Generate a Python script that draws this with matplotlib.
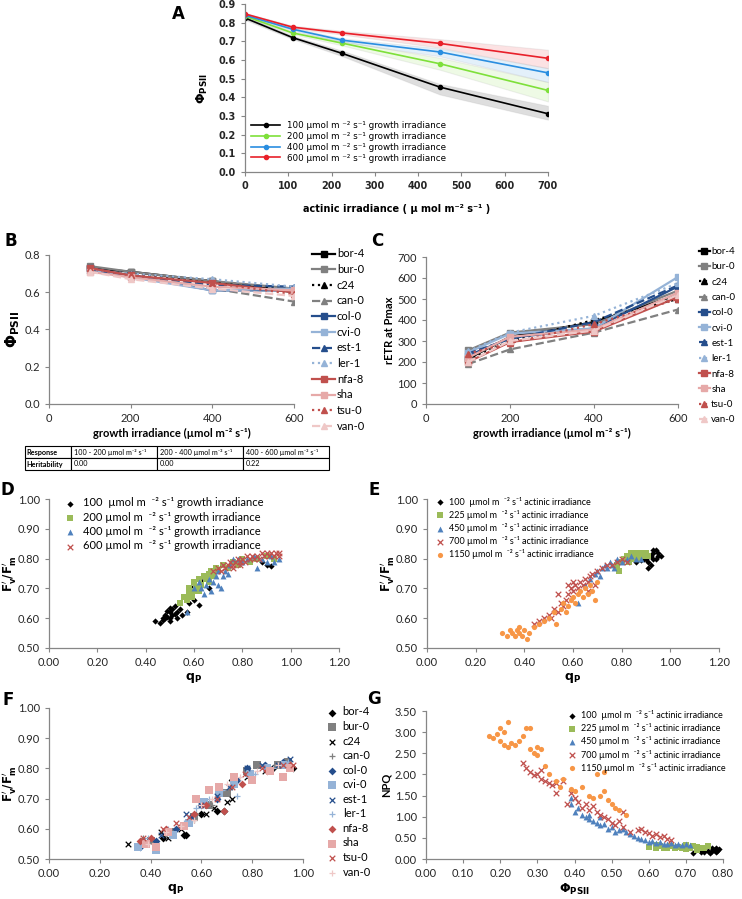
import matplotlib
matplotlib.use("Agg")
import matplotlib.pyplot as plt
from matplotlib.ticker import FormatStrFormatter

plt.rcParams["font.family"] = ["Lato", "DejaVu Sans"]

# --- DATA ---
# Panel A: PhiPSII vs actinic irradiance, mean and band per growth irradiance
actinic_a = [0, 110, 225, 450, 700]
growth_names_a = ["100", "200", "400", "600"]
phi_a_mean = [
    [0.825, 0.720, 0.635, 0.455, 0.312],
    [0.835, 0.745, 0.690, 0.580, 0.437],
    [0.840, 0.765, 0.706, 0.643, 0.531],
    [0.847, 0.776, 0.745, 0.689, 0.609],
]
phi_a_low = [
    [0.815, 0.712, 0.620, 0.415, 0.280],
    [0.828, 0.738, 0.678, 0.548, 0.378],
    [0.835, 0.758, 0.696, 0.620, 0.482],
    [0.842, 0.770, 0.736, 0.666, 0.556],
]
phi_a_high = [
    [0.835, 0.730, 0.650, 0.472, 0.355],
    [0.842, 0.752, 0.702, 0.612, 0.482],
    [0.846, 0.772, 0.716, 0.662, 0.556],
    [0.852, 0.784, 0.756, 0.712, 0.655],
]

# Panels B and C: accessions vs growth irradiance
growth_irr = [100, 200, 400, 600]
accessions = ["bor-4", "bur-0", "c24", "can-0", "col-0", "cvi-0",
              "est-1", "ler-1", "nfa-8", "sha", "tsu-0", "van-0"]
phi_b = [
    [0.73, 0.71, 0.66, 0.60],
    [0.74, 0.71, 0.66, 0.62],
    [0.72, 0.70, 0.65, 0.61],
    [0.72, 0.69, 0.62, 0.55],
    [0.73, 0.69, 0.61, 0.61],
    [0.72, 0.68, 0.61, 0.62],
    [0.72, 0.69, 0.64, 0.63],
    [0.72, 0.70, 0.67, 0.63],
    [0.73, 0.69, 0.65, 0.60],
    [0.71, 0.68, 0.63, 0.61],
    [0.73, 0.69, 0.65, 0.59],
    [0.71, 0.67, 0.62, 0.58],
]
retr_c = [
    [215, 320, 390, 520],
    [255, 340, 380, 540],
    [210, 300, 400, 500],
    [190, 260, 340, 450],
    [230, 315, 360, 560],
    [245, 335, 360, 605],
    [240, 310, 390, 565],
    [250, 340, 420, 575],
    [200, 295, 345, 510],
    [220, 320, 355, 530],
    [240, 290, 380, 500],
    [200, 300, 350, 520],
]
table_rows = [
    ["Response", "100 - 200 µmol m⁻² s⁻¹", "200 - 400 µmol m⁻² s⁻¹", "400 - 600 µmol m⁻² s⁻¹"],
    ["Heritability", "0.00", "0.00", "0.22"],
]

# Panel D: Fv'/Fm' vs qP by growth irradiance
d_100_qp = [0.44, 0.46, 0.47, 0.48, 0.48, 0.49, 0.50, 0.50, 0.50, 0.51, 0.51, 0.52, 0.52, 0.53, 0.53,
            0.54, 0.50, 0.49, 0.47, 0.55, 0.57, 0.58, 0.60, 0.62, 0.59, 0.63, 0.66, 0.90, 0.88, 0.92]
d_100_fv = [0.59, 0.585, 0.60, 0.60, 0.61, 0.605, 0.59, 0.62, 0.60, 0.63, 0.61, 0.615, 0.64, 0.62, 0.60,
            0.63, 0.635, 0.625, 0.595, 0.61, 0.62, 0.65, 0.66, 0.645, 0.70, 0.725, 0.70, 0.78, 0.79, 0.775]
d_200_qp = [0.54, 0.56, 0.57, 0.58, 0.58, 0.60, 0.60, 0.61, 0.62, 0.63, 0.64, 0.65, 0.66, 0.67, 0.68,
            0.69, 0.70, 0.72, 0.74, 0.76, 0.78, 0.80, 0.83, 0.86, 0.90, 0.93, 0.62, 0.59, 0.66]
d_200_fv = [0.65, 0.67, 0.66, 0.70, 0.68, 0.69, 0.72, 0.70, 0.73, 0.71, 0.74, 0.73, 0.75, 0.76, 0.74,
            0.77, 0.76, 0.78, 0.77, 0.79, 0.78, 0.80, 0.79, 0.80, 0.81, 0.80, 0.69, 0.67, 0.72]
d_400_qp = [0.57, 0.60, 0.62, 0.63, 0.64, 0.65, 0.66, 0.67, 0.68, 0.69, 0.70, 0.71, 0.72, 0.73,
            0.75, 0.78, 0.80, 0.82, 0.85, 0.88, 0.92, 0.95, 0.93, 0.86, 0.90, 0.76, 0.70, 0.74]
d_400_fv = [0.62, 0.70, 0.72, 0.70, 0.68, 0.71, 0.73, 0.69, 0.72, 0.74, 0.71, 0.70, 0.74, 0.76,
            0.78, 0.80, 0.79, 0.80, 0.81, 0.80, 0.81, 0.80, 0.79, 0.77, 0.79, 0.80, 0.76, 0.75]
d_600_qp = [0.68, 0.70, 0.71, 0.72, 0.73, 0.74, 0.75, 0.76, 0.77, 0.78, 0.79, 0.80, 0.81, 0.82, 0.83,
            0.84, 0.85, 0.86, 0.87, 0.88, 0.89, 0.90, 0.91, 0.92, 0.93, 0.94, 0.95, 0.95, 0.76, 0.79]
d_600_fv = [0.76, 0.77, 0.76, 0.78, 0.77, 0.78, 0.79, 0.78, 0.79, 0.80, 0.79, 0.80, 0.79, 0.81, 0.80,
            0.81, 0.80, 0.81, 0.80, 0.82, 0.81, 0.82, 0.81, 0.82, 0.81, 0.82, 0.82, 0.81, 0.77, 0.78]

# Panel E: Fv'/Fm' vs qP by actinic irradiance
e_100_qp = [0.86, 0.88, 0.90, 0.91, 0.92, 0.93, 0.94, 0.95, 0.96, 0.94, 0.93, 0.92, 0.91, 0.95, 0.93, 0.89]
e_100_fv = [0.79, 0.795, 0.80, 0.79, 0.81, 0.82, 0.83, 0.82, 0.81, 0.80, 0.80, 0.78, 0.77, 0.81, 0.83, 0.80]
e_225_qp = [0.78, 0.80, 0.81, 0.82, 0.83, 0.84, 0.85, 0.86, 0.87, 0.88, 0.89, 0.90, 0.91, 0.83, 0.79, 0.85, 0.87]
e_225_fv = [0.78, 0.79, 0.80, 0.81, 0.80, 0.82, 0.81, 0.82, 0.81, 0.82, 0.81, 0.82, 0.81, 0.79, 0.76, 0.80, 0.80]
e_450_qp = [0.62, 0.65, 0.67, 0.69, 0.70, 0.72, 0.73, 0.74, 0.75, 0.76, 0.78, 0.80, 0.82, 0.84, 0.86, 0.88, 0.71, 0.77]
e_450_fv = [0.65, 0.71, 0.73, 0.75, 0.76, 0.77, 0.78, 0.77, 0.79, 0.78, 0.80, 0.79, 0.80, 0.81, 0.80, 0.80, 0.74, 0.77]
e_700_qp = [0.44, 0.46, 0.48, 0.50, 0.51, 0.52, 0.54, 0.55, 0.56, 0.57, 0.58, 0.59, 0.60, 0.61, 0.62, 0.63, 0.64,
            0.65, 0.66, 0.67, 0.68, 0.70, 0.72, 0.74, 0.76, 0.78, 0.80, 0.82, 0.58, 0.60, 0.54, 0.69, 0.66]
e_700_fv = [0.58, 0.59, 0.60, 0.61, 0.60, 0.63, 0.62, 0.65, 0.64, 0.66, 0.68, 0.70, 0.69, 0.71, 0.70, 0.72, 0.71,
            0.73, 0.72, 0.74, 0.75, 0.76, 0.77, 0.78, 0.78, 0.79, 0.80, 0.79, 0.71, 0.72, 0.68, 0.71, 0.69]
e_1150_qp = [0.31, 0.33, 0.34, 0.35, 0.36, 0.37, 0.38, 0.39, 0.40, 0.41, 0.42, 0.44, 0.46, 0.48, 0.50, 0.52, 0.53,
             0.55, 0.56, 0.58, 0.59, 0.60, 0.61, 0.62, 0.63, 0.64, 0.65, 0.66, 0.67, 0.68, 0.69, 0.70, 0.57, 0.38]
e_1150_fv = [0.55, 0.54, 0.56, 0.55, 0.54, 0.56, 0.55, 0.54, 0.56, 0.53, 0.55, 0.57, 0.58, 0.59, 0.60, 0.62, 0.58,
             0.63, 0.65, 0.64, 0.66, 0.67, 0.65, 0.68, 0.69, 0.67, 0.70, 0.68, 0.71, 0.69, 0.66, 0.72, 0.62, 0.57]

# Panel F: Fv'/Fm' vs qP by accession
f_qp = [
    [0.36, 0.45, 0.53, 0.54, 0.60, 0.66, 0.69, 0.72, 0.88, 0.96],
    [0.40, 0.48, 0.57, 0.63, 0.70, 0.78, 0.82, 0.90, 0.94, 0.86],
    [0.31, 0.44, 0.47, 0.52, 0.62, 0.65, 0.70, 0.72, 0.78, 0.85],
    [0.37, 0.46, 0.55, 0.57, 0.58, 0.64, 0.72, 0.80, 0.90, 0.93],
    [0.36, 0.42, 0.50, 0.56, 0.60, 0.66, 0.74, 0.78, 0.85, 0.92],
    [0.35, 0.42, 0.49, 0.55, 0.61, 0.67, 0.73, 0.79, 0.86, 0.93],
    [0.38, 0.44, 0.54, 0.60, 0.66, 0.71, 0.78, 0.84, 0.90, 0.95],
    [0.39, 0.47, 0.53, 0.58, 0.63, 0.68, 0.74, 0.81, 0.88, 0.94],
    [0.36, 0.40, 0.46, 0.52, 0.57, 0.62, 0.69, 0.76, 0.86, 0.95],
    [0.38, 0.42, 0.47, 0.53, 0.58, 0.63, 0.67, 0.73, 0.80, 0.87, 0.92, 0.95],
    [0.37, 0.45, 0.50, 0.55, 0.61, 0.66, 0.72, 0.77, 0.84, 0.92, 0.96],
    [0.39, 0.46, 0.52, 0.57, 0.60, 0.64, 0.70, 0.75, 0.82, 0.90],
]
f_fv = [
    [0.55, 0.57, 0.58, 0.58, 0.65, 0.66, 0.66, 0.76, 0.80, 0.80],
    [0.56, 0.59, 0.64, 0.68, 0.72, 0.79, 0.81, 0.81, 0.82, 0.80],
    [0.55, 0.59, 0.57, 0.60, 0.65, 0.67, 0.69, 0.70, 0.77, 0.79],
    [0.57, 0.58, 0.63, 0.63, 0.65, 0.68, 0.74, 0.78, 0.81, 0.82],
    [0.54, 0.56, 0.60, 0.64, 0.68, 0.70, 0.76, 0.80, 0.81, 0.82],
    [0.54, 0.53, 0.58, 0.62, 0.69, 0.72, 0.75, 0.78, 0.80, 0.81],
    [0.56, 0.58, 0.65, 0.68, 0.71, 0.74, 0.80, 0.81, 0.81, 0.83],
    [0.57, 0.60, 0.62, 0.67, 0.70, 0.73, 0.71, 0.78, 0.80, 0.82],
    [0.56, 0.57, 0.60, 0.61, 0.65, 0.68, 0.66, 0.75, 0.79, 0.81],
    [0.55, 0.54, 0.59, 0.61, 0.70, 0.73, 0.74, 0.77, 0.76, 0.79, 0.77, 0.80],
    [0.57, 0.60, 0.62, 0.64, 0.68, 0.70, 0.74, 0.78, 0.80, 0.81, 0.81],
    [0.55, 0.59, 0.61, 0.63, 0.68, 0.70, 0.75, 0.77, 0.79, 0.81],
]

# Panel G: NPQ vs PhiPSII by actinic irradiance
g_100_phi = [0.76, 0.77, 0.775, 0.78, 0.78, 0.785, 0.79, 0.77, 0.765, 0.75, 0.74, 0.72, 0.785]
g_100_npq = [0.20, 0.18, 0.22, 0.25, 0.17, 0.21, 0.23, 0.26, 0.15, 0.17, 0.16, 0.15, 0.19]
g_225_phi = [0.60, 0.62, 0.63, 0.64, 0.65, 0.66, 0.67, 0.68, 0.69, 0.70, 0.71, 0.72, 0.73, 0.74, 0.75,
             0.76, 0.73, 0.70, 0.62]
g_225_npq = [0.28, 0.25, 0.30, 0.27, 0.26, 0.30, 0.25, 0.28, 0.27, 0.24, 0.26, 0.30, 0.28, 0.25, 0.27,
             0.30, 0.22, 0.33, 0.32]
g_450_phi = [0.39, 0.39, 0.40, 0.41, 0.42, 0.43, 0.44, 0.45, 0.46, 0.47, 0.48, 0.49, 0.50, 0.51, 0.52, 0.53,
             0.54, 0.55, 0.56, 0.57, 0.58, 0.59, 0.60, 0.61, 0.62, 0.63, 0.64, 0.65, 0.66, 0.67, 0.68, 0.69,
             0.70, 0.71, 0.47, 0.44]
g_450_npq = [1.45, 1.30, 1.10, 1.20, 1.05, 1.00, 0.95, 0.90, 0.85, 0.80, 0.82, 0.70, 0.75, 0.65, 0.68, 0.70,
             0.65, 0.60, 0.55, 0.50, 0.48, 0.45, 0.40, 0.42, 0.38, 0.40, 0.36, 0.35, 0.38, 0.33, 0.36, 0.34,
             0.35, 0.32, 1.00, 1.05]
g_700_phi = [0.26, 0.27, 0.28, 0.29, 0.30, 0.31, 0.31, 0.32, 0.33, 0.34, 0.35, 0.35, 0.37, 0.38, 0.39, 0.40,
             0.41, 0.42, 0.43, 0.44, 0.45, 0.46, 0.47, 0.48, 0.49, 0.50, 0.51, 0.52, 0.53, 0.53, 0.55, 0.57,
             0.58, 0.59, 0.60, 0.61, 0.62, 0.63, 0.64, 0.65, 0.66]
g_700_npq = [2.28, 2.15, 2.05, 1.98, 2.00, 1.90, 2.10, 1.85, 1.80, 1.75, 1.55, 1.80, 1.85, 1.30, 1.55, 1.45,
             1.35, 1.20, 1.30, 1.15, 1.25, 1.10, 1.05, 1.00, 0.95, 0.85, 0.80, 0.90, 1.10, 0.75, 0.65, 0.68,
             0.72, 0.65, 0.62, 0.55, 0.60, 0.52, 0.55, 0.48, 0.45]
g_1150_phi = [0.17, 0.18, 0.19, 0.20, 0.20, 0.21, 0.21, 0.22, 0.22, 0.23, 0.24, 0.25, 0.26, 0.27, 0.28, 0.28,
              0.29, 0.30, 0.30, 0.31, 0.32, 0.33, 0.35, 0.36, 0.37, 0.39, 0.40, 0.42, 0.44, 0.45, 0.47, 0.48,
              0.49, 0.50, 0.51, 0.52, 0.54, 0.46, 0.48]
g_1150_npq = [2.90, 2.85, 2.95, 3.10, 2.80, 2.70, 3.00, 3.25, 2.65, 2.75, 2.70, 2.80, 2.90, 3.10, 3.10, 2.60,
              2.50, 2.65, 2.45, 2.60, 2.20, 2.00, 1.85, 1.70, 1.90, 1.65, 1.60, 1.70, 1.50, 1.45, 1.50, 1.60,
              1.40, 1.30, 1.20, 1.15, 1.05, 2.00, 2.05]

# --- STYLES ---
W, H = 742, 899
SPINE = "#868686"
TXT = "#262626"
a_colors = ["#000000", "#7ee03a", "#2a8ee0", "#e8202a"]
acc_colors = ["#000000", "#808080", "#000000", "#808080", "#254e8c", "#95b3d7",
              "#254e8c", "#95b3d7", "#c0504d", "#e6a9a8", "#c0504d", "#efc8c7"]
acc_styles = ["-", "-", ":", "--", "-", "-", "--", ":", "-", "-", ":", "--"]
acc_markers = ["s", "s", "^", "^", "s", "s", "^", "^", "s", "s", "^", "^"]
f_markers = ["D", "s", "x", "+", "D", "s", "x", "+", "D", "s", "x", "+"]
irr_colors = ["#000000", "#9bbb59", "#4f81bd", "#c0504d", "#f79646"]
SUP = "µmol m ⁻² s⁻¹"


def px_axes(x0, x1, y0, y1):
    # pixel box (left, right, top, bottom) -> figure axes
    return fig.add_axes([x0 / W, 1 - y1 / H, (x1 - x0) / W, (y1 - y0) / H])


def excel_style(ax, size=8):
    for s in ["top", "right"]:
        ax.spines[s].set_visible(False)
    for s in ["left", "bottom"]:
        ax.spines[s].set_color(SPINE)
        ax.spines[s].set_linewidth(0.9)
    ax.tick_params(colors=SPINE, labelcolor=TXT, labelsize=size, length=3, width=0.8, direction="out")


def panel_letter(x, y, letter):
    fig.text(x / W, 1 - y / H, letter, fontsize=12, fontweight="bold", family="DejaVu Sans",
             ha="left", va="top")


fig = plt.figure(figsize=(W / 100, H / 100), dpi=100)

# --- PANEL A ---
ax = px_axes(245, 548, 4, 172)
excel_style(ax, 7)
for i in range(4):
    ax.fill_between(actinic_a, phi_a_low[i], phi_a_high[i], facecolor=a_colors[i], alpha=0.13,
                    edgecolor="#909090", linewidth=0.8)
    ax.plot(actinic_a, phi_a_mean[i], color=a_colors[i], lw=1.2, marker="o", ms=3,
            label=f"{growth_names_a[i]} {SUP} growth irradiance")
ax.set_xlim(0, 700)
ax.set_ylim(0, 0.9)
ax.set_xticks(range(0, 701, 100))
ax.set_yticks([i / 10 for i in range(10)])
ax.yaxis.set_major_formatter(FormatStrFormatter("%.1f"))
for t in ax.get_xticklabels() + ax.get_yticklabels():
    t.set_fontweight("bold")
    t.set_family("DejaVu Sans")
ax.set_xlabel("actinic irradiance ( µ mol m⁻² s⁻¹ )", fontsize=7, fontweight="bold",
              family="DejaVu Sans", labelpad=9)
ax.set_ylabel(r"$\mathbf{\Phi_{PSII}}$", fontsize=9, labelpad=6)
ax.legend(loc="lower left", frameon=False, prop={"family": "DejaVu Sans", "size": 6.3},
          handlelength=3.3, labelspacing=0.2, borderaxespad=0.3, bbox_to_anchor=(0.0, 0.02))
panel_letter(172, 5, "A")

# --- PANEL B ---
ax = px_axes(49, 294, 255, 404)
excel_style(ax)
lines = []
for i, name in enumerate(accessions):
    ln, = ax.plot(growth_irr, phi_b[i], color=acc_colors[i], ls=acc_styles[i], lw=1.6,
                  marker=acc_markers[i], ms=4.5, label=name)
    lines.append(ln)
ax.set_xlim(0, 600)
ax.set_ylim(0, 0.8)
ax.set_xticks([0, 200, 400, 600])
ax.set_yticks([0, 0.2, 0.4, 0.6, 0.8])
ax.yaxis.set_major_formatter(FormatStrFormatter("%.1f"))
ax.set_xlabel("growth irradiance (µmol m⁻² s⁻¹)", fontsize=8, fontweight="bold", labelpad=3)
ax.set_ylabel(r"$\mathbf{\Phi_{PSII}}$", fontsize=11, labelpad=2)
ax.legend(handles=lines, loc="upper left", bbox_to_anchor=(308 / W, 1 - 244 / H),
          bbox_transform=fig.transFigure, frameon=False, fontsize=8, handlelength=2.0,
          handletextpad=0.2, labelspacing=0.42, borderaxespad=0)
panel_letter(4, 232, "B")

# table under panel B
tab_ax = px_axes(25, 329, 446, 470)
tab_ax.axis("off")
tbl = tab_ax.table(cellText=table_rows, colWidths=[46 / 304, 86 / 304, 86 / 304, 86 / 304],
                   cellLoc="left", bbox=[0, 0, 1, 1])
tbl.auto_set_font_size(False)
tbl.set_fontsize(5.2)
for (r, c), cell in tbl.get_celld().items():
    cell.set_linewidth(0.8)
    cell.PAD = 0.03
    if c == 0:
        cell.get_text().set_fontweight("bold")

# --- PANEL C ---
ax = px_axes(426, 678, 257, 404)
excel_style(ax)
lines = []
for i, name in enumerate(accessions):
    ln, = ax.plot(growth_irr, retr_c[i], color=acc_colors[i], ls=acc_styles[i], lw=1.6,
                  marker=acc_markers[i], ms=4.5, label=name)
    lines.append(ln)
ax.set_xlim(0, 600)
ax.set_ylim(0, 700)
ax.set_xticks([0, 200, 400, 600])
ax.set_yticks(range(0, 701, 100))
ax.set_xlabel("growth irradiance (µmol m⁻² s⁻¹)", fontsize=8, fontweight="bold", labelpad=3)
ax.set_ylabel("rETR at Pmax", fontsize=8, fontweight="bold", labelpad=2)
ax.legend(handles=lines, loc="upper left", bbox_to_anchor=(698 / W, 1 - 246 / H),
          bbox_transform=fig.transFigure, frameon=False, fontsize=7, handlelength=1.1,
          handletextpad=0.15, labelspacing=0.65, borderaxespad=0, borderpad=0.1)
panel_letter(371, 232, "C")


def scatter_axes(ax, xmax, ymin, ymax, ystep, xstep):
    excel_style(ax)
    ax.set_xlim(0, xmax)
    ax.set_ylim(ymin, ymax)
    n = int(round(xmax / xstep))
    ax.set_xticks([k * xstep for k in range(n + 1)])
    m = int(round((ymax - ymin) / ystep))
    ax.set_yticks([ymin + k * ystep for k in range(m + 1)])
    ax.xaxis.set_major_formatter(FormatStrFormatter("%.2f"))
    ax.yaxis.set_major_formatter(FormatStrFormatter("%.2f"))


FVFM = r"$\mathbf{F_v'/F_m'}$"
QP = r"$\mathbf{q_P}$"

# --- PANEL D ---
ax = px_axes(49, 339, 499, 648)
scatter_axes(ax, 1.2, 0.5, 1.0, 0.1, 0.2)
ax.scatter(d_100_qp, d_100_fv, marker="D", s=10, color=irr_colors[0], lw=0,
           label=f"100  µmol m  ⁻² s⁻¹ growth irradiance")
ax.scatter(d_200_qp, d_200_fv, marker="s", s=16, color=irr_colors[1], lw=0,
           label=f"200 µmol m  ⁻² s⁻¹ growth irradiance")
ax.scatter(d_400_qp, d_400_fv, marker="^", s=18, color=irr_colors[2], lw=0,
           label=f"400 µmol m  ⁻² s⁻¹ growth irradiance")
ax.scatter(d_600_qp, d_600_fv, marker="x", s=16, color=irr_colors[3], lw=0.9,
           label=f"600 µmol m  ⁻² s⁻¹ growth irradiance")
ax.legend(loc="upper left", bbox_to_anchor=(0.02, 1.04), frameon=False, fontsize=8,
          scatterpoints=1, handletextpad=0.1, labelspacing=0.3, borderaxespad=0)
ax.set_xlabel(QP, fontsize=9, labelpad=2)
ax.set_ylabel(FVFM, fontsize=8.5, labelpad=0)
panel_letter(1, 481, "D")

# --- PANEL E ---
ax = px_axes(427, 719, 499, 648)
scatter_axes(ax, 1.2, 0.5, 1.0, 0.1, 0.2)
ax.scatter(e_100_qp, e_100_fv, marker="D", s=10, color=irr_colors[0], lw=0,
           label="100  µmol m  ⁻² s⁻¹ actinic irradiance")
ax.scatter(e_225_qp, e_225_fv, marker="s", s=16, color=irr_colors[1], lw=0,
           label="225 µmol m  ⁻² s⁻¹ actinic irradiance")
ax.scatter(e_450_qp, e_450_fv, marker="^", s=18, color=irr_colors[2], lw=0,
           label="450 µmol m  ⁻² s⁻¹ actinic irradiance")
ax.scatter(e_700_qp, e_700_fv, marker="x", s=16, color=irr_colors[3], lw=0.9,
           label="700 µmol m  ⁻² s⁻¹ actinic irradiance")
ax.scatter(e_1150_qp, e_1150_fv, marker="o", s=14, color=irr_colors[4], lw=0,
           label="1150 µmol m  ⁻² s⁻¹ actinic irradiance")
ax.legend(loc="upper left", bbox_to_anchor=(0.0, 1.04), frameon=False, fontsize=6.5,
          scatterpoints=1, handletextpad=0.0, labelspacing=0.35, borderaxespad=0)
ax.set_xlabel(QP, fontsize=9, labelpad=2)
ax.set_ylabel(FVFM, fontsize=8.5, labelpad=0)
panel_letter(368, 481, "E")

# --- PANEL F ---
ax = px_axes(49, 303, 708, 859)
scatter_axes(ax, 1.0, 0.5, 1.0, 0.1, 0.2)
handles = []
for i, name in enumerate(accessions):
    lw = 0.9 if f_markers[i] in ("x", "+") else 0
    sz = 28 if f_markers[i] == "s" else 16
    h = ax.scatter(f_qp[i], f_fv[i], marker=f_markers[i], s=sz, color=acc_colors[i], lw=lw, label=name)
    handles.append(h)
ax.legend(handles=handles, loc="upper left", bbox_to_anchor=(316 / W, 1 - 702 / H),
          bbox_transform=fig.transFigure, frameon=False, fontsize=8, scatterpoints=1,
          handletextpad=0.0, labelspacing=0.32, borderaxespad=0)
ax.set_xlabel(QP, fontsize=9, labelpad=2)
ax.set_ylabel(FVFM, fontsize=8.5, labelpad=0)
panel_letter(3, 691, "F")

# --- PANEL G ---
ax = px_axes(426, 723, 711, 859)
scatter_axes(ax, 0.8, 0.0, 3.5, 0.5, 0.1)
ax.scatter(g_100_phi, g_100_npq, marker="D", s=10, color=irr_colors[0], lw=0,
           label="100  µmol m  ⁻² s⁻¹ actinic irradiance")
ax.scatter(g_225_phi, g_225_npq, marker="s", s=16, color=irr_colors[1], lw=0,
           label="225 µmol m  ⁻² s⁻¹ actinic irradiance")
ax.scatter(g_450_phi, g_450_npq, marker="^", s=18, color=irr_colors[2], lw=0,
           label="450 µmol m  ⁻² s⁻¹ actinic irradiance")
ax.scatter(g_700_phi, g_700_npq, marker="x", s=16, color=irr_colors[3], lw=0.9,
           label="700 µmol m  ⁻² s⁻¹ actinic irradiance")
ax.scatter(g_1150_phi, g_1150_npq, marker="o", s=14, color=irr_colors[4], lw=0,
           label="1150 µmol m  ⁻² s⁻¹ actinic irradiance")
ax.legend(loc="upper right", bbox_to_anchor=(1.02, 1.03), frameon=False, fontsize=6.5,
          scatterpoints=1, handletextpad=0.0, labelspacing=0.35, borderaxespad=0)
ax.set_xlabel(r"$\mathbf{\Phi_{PSII}}$", fontsize=9, labelpad=2)
ax.set_ylabel("NPQ", fontsize=8, fontweight="bold", labelpad=2)
panel_letter(367, 690, "G")

fig.savefig("out.png", dpi=100)
